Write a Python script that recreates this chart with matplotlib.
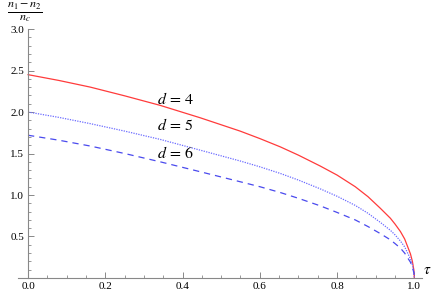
import matplotlib
matplotlib.use('Agg')
import matplotlib.pyplot as plt
from matplotlib.ticker import MultipleLocator

plt.rcParams['mathtext.fontset'] = 'stix'
plt.rcParams['font.family'] = 'Liberation Serif'

# values
tau = [0.0, 0.08, 0.161, 0.25, 0.342, 0.446, 0.549, 0.6, 0.653, 0.7, 0.756, 0.8, 0.847,
       0.88, 0.912, 0.938, 0.95, 0.964, 0.975, 0.99, 0.995, 0.999, 1.0]
d4 = [2.45, 2.38, 2.30, 2.195, 2.08, 1.93, 1.77, 1.68, 1.58, 1.48, 1.35, 1.24, 1.10,
      0.98, 0.84, 0.72, 0.65, 0.56, 0.47, 0.29, 0.20, 0.09, 0.0]
d5 = [2.00, 1.935, 1.86, 1.77, 1.67, 1.54, 1.41, 1.34, 1.26, 1.18, 1.075, 0.985, 0.875,
      0.78, 0.67, 0.575, 0.52, 0.445, 0.375, 0.23, 0.16, 0.07, 0.0]
d6 = [1.72, 1.66, 1.59, 1.50, 1.40, 1.28, 1.16, 1.10, 1.03, 0.96, 0.87, 0.79, 0.70,
      0.62, 0.535, 0.46, 0.415, 0.36, 0.30, 0.19, 0.13, 0.06, 0.0]

labels = ['$d\\,=\\,4$', '$d\\,=\\,5$', '$d\\,=\\,6$']
label_y = [2.14, 1.83, 1.49]

fig = plt.figure(figsize=(4.36, 2.93), dpi=100)
ax = fig.add_axes([0.0413, 0.0512, 0.9267, 0.8498])

ax.plot(tau, d4, color='#ff3b3b', lw=0.9)
ax.plot(tau, d5, color='#6b6bff', lw=0.9, ls=(0, (1, 1)))
ax.plot(tau, d6, color='#4a4aee', lw=0.9, ls=(0, (5, 4)))

for lab, yy in zip(labels, label_y):
    ax.text(0.334, yy, lab, fontsize=11.5, va='center', ha='left')

ax.set_xlim(-0.026, 1.02)
ax.set_ylim(0, 3.0)

for s in ['top', 'right']:
    ax.spines[s].set_visible(False)
ax.spines['left'].set_position(('data', 0))
for s in ['left', 'bottom']:
    ax.spines[s].set_color('#888888')
    ax.spines[s].set_linewidth(0.8)

ax.xaxis.set_minor_locator(MultipleLocator(0.05))
ax.yaxis.set_minor_locator(MultipleLocator(0.1))
ax.set_xticks([0.0, 0.2, 0.4, 0.6, 0.8, 1.0])
ax.set_xticklabels(['0.0', '0.2', '0.4', '0.6', '0.8', '1.0'])
ax.set_yticks([0.5, 1.0, 1.5, 2.0, 2.5, 3.0])
ax.set_yticklabels(['0.5', '1.0', '1.5', '2.0', '2.5', '3.0'])

ax.tick_params(which='major', direction='in', length=4, width=0.7, color='#888888',
               labelsize=8, pad=3)
ax.tick_params(which='minor', direction='in', length=2, width=0.6, color='#888888')

fig.text(0.058, 0.960, r'$\frac{n_1-n_2}{n_c}$', fontsize=12.5, ha='center', va='center')
fig.text(0.98, 0.078, r'$\tau$', fontsize=11, ha='center', va='center')

fig.savefig('out.png', dpi=100)
